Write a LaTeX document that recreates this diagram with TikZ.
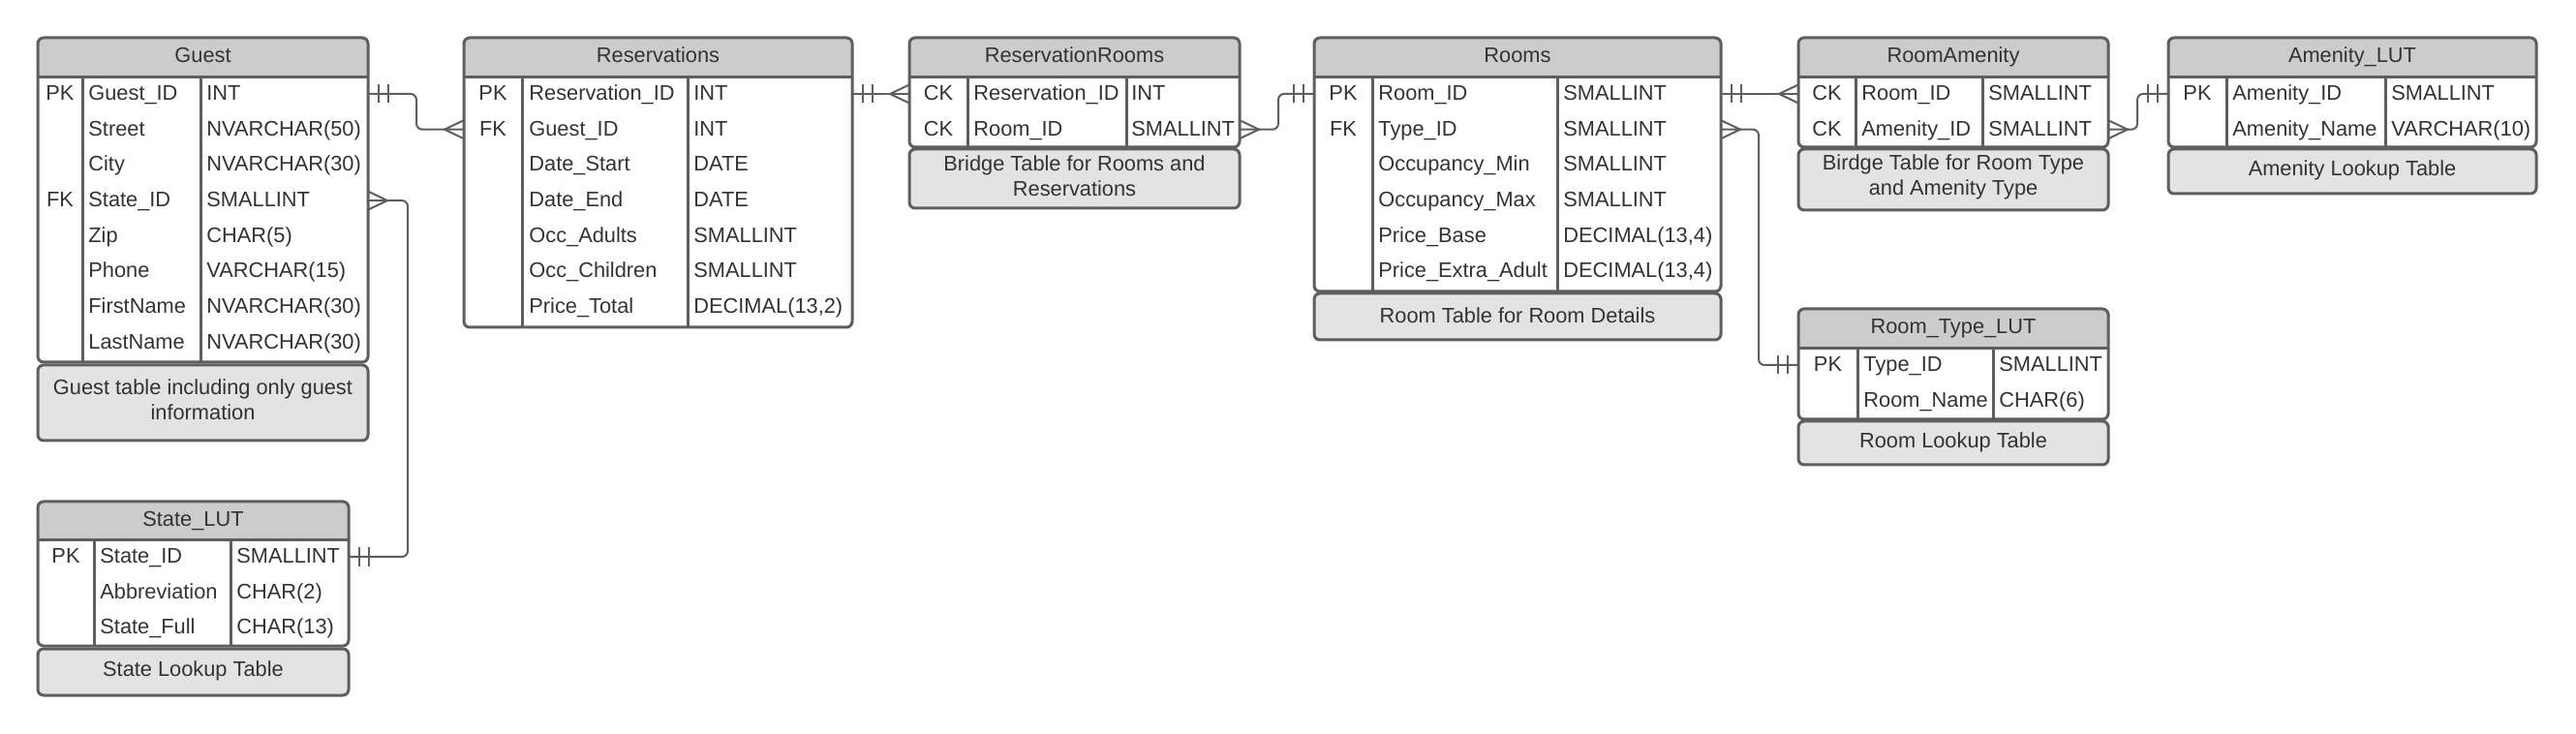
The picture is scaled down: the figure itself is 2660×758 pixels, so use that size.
\documentclass[tikz,border=0pt]{standalone}
\usepackage{fontspec}
\setmainfont{Liberation Sans}
\definecolor{ink}{HTML}{333333}
\definecolor{edge}{HTML}{5E5E5E}
\definecolor{hdrfill}{HTML}{CCCCCC}
\definecolor{notefill}{HTML}{E3E3E3}

\begin{document}
\begin{tikzpicture}[x=0.5pt, y=-0.5pt,
    tbl/.style={draw=edge, line width=1.5pt},
    conn/.style={draw=edge, line width=1pt},
    txt/.style={inner sep=0pt, text=ink, font=\fontsize{10.9}{13}\selectfont},
    titletxt/.style={txt, anchor=base},
    keytxt/.style={txt, anchor=base},
    fldtxt/.style={txt, anchor=base west},
    notetxt/.style={txt, align=center},
    crowfoot/.pic={\draw[conn] (0,-9.5) -- (20,0) -- (0,9.5);},
    onebar/.pic={\draw[conn] (11,-9.5) -- (11,9.5) (21,-9.5) -- (21,9.5);}]
    \useasboundingbox (0,0) rectangle (2660,758);

    % Guest
    \begin{scope}
        \clip[rounded corners=3pt] (39,39) rectangle (380,374);
        \fill[hdrfill] (39,39) rectangle (380,80);
    \end{scope}
    \draw[tbl, rounded corners=3pt] (39,39) rectangle (380,374);
    \draw[tbl] (39,80) -- (380,80) (85,80) -- (85,374) (207,80) -- (207,374);
    \node[titletxt] (guest) at (209.5,65) {Guest};
    \foreach \k/\f/\t [count=\i] in {PK/Guest\_ID/INT, /Street/NVARCHAR(50), /City/NVARCHAR(30),
        FK/State\_ID/SMALLINT, /Zip/CHAR(5), /Phone/VARCHAR(15), /FirstName/NVARCHAR(30), /LastName/NVARCHAR(30)} {
        \coordinate (guest-\i-w) at (39,{97+(\i-1)*36.7});
        \coordinate (guest-\i-e) at (380,{97+(\i-1)*36.7});
        \node[keytxt] (guest-k\i) at (62,{103.5+(\i-1)*36.7}) {\k};
        \node[fldtxt] (guest-f\i) at (91,{103.5+(\i-1)*36.7}) {\f};
        \node[fldtxt] (guest-t\i) at (213,{103.5+(\i-1)*36.7}) {\t};
    }
    \draw[tbl, fill=notefill, rounded corners=3pt] (39,377) rectangle (380,455);
    \node[notetxt] (guest-note) at (209.5,413) {Guest table including only guest\\information};

    % State_LUT
    \begin{scope}
        \clip[rounded corners=3pt] (39,518) rectangle (360,667);
        \fill[hdrfill] (39,518) rectangle (360,558);
    \end{scope}
    \draw[tbl, rounded corners=3pt] (39,518) rectangle (360,667);
    \draw[tbl] (39,558) -- (360,558) (97,558) -- (97,667) (238,558) -- (238,667);
    \node[titletxt] (state) at (199.5,544) {State\_LUT};
    \foreach \k/\f/\t [count=\i] in {PK/State\_ID/SMALLINT, /Abbreviation/CHAR(2), /State\_Full/CHAR(13)} {
        \coordinate (state-\i-w) at (39,{575+(\i-1)*36.7});
        \coordinate (state-\i-e) at (360,{575+(\i-1)*36.7});
        \node[keytxt] (state-k\i) at (68,{581.5+(\i-1)*36.7}) {\k};
        \node[fldtxt] (state-f\i) at (103,{581.5+(\i-1)*36.7}) {\f};
        \node[fldtxt] (state-t\i) at (244,{581.5+(\i-1)*36.7}) {\t};
    }
    \draw[tbl, fill=notefill, rounded corners=3pt] (39,670) rectangle (360,718);
    \node[notetxt] (state-note) at (199.5,693) {State Lookup Table};

    % Reservations
    \begin{scope}
        \clip[rounded corners=3pt] (479,39) rectangle (880,338);
        \fill[hdrfill] (479,39) rectangle (880,80);
    \end{scope}
    \draw[tbl, rounded corners=3pt] (479,39) rectangle (880,338);
    \draw[tbl] (479,80) -- (880,80) (539,80) -- (539,338) (710,80) -- (710,338);
    \node[titletxt] (resv) at (679.5,65) {Reservations};
    \foreach \k/\f/\t [count=\i] in {PK/Reservation\_ID/INT, FK/Guest\_ID/INT, /Date\_Start/DATE, /Date\_End/DATE,
        /Occ\_Adults/SMALLINT, /Occ\_Children/SMALLINT, /Price\_Total/DECIMAL(13{,}2)} {
        \coordinate (resv-\i-w) at (479,{97+(\i-1)*36.7});
        \coordinate (resv-\i-e) at (880,{97+(\i-1)*36.7});
        \node[keytxt] (resv-k\i) at (509,{103.5+(\i-1)*36.7}) {\k};
        \node[fldtxt] (resv-f\i) at (546,{103.5+(\i-1)*36.7}) {\f};
        \node[fldtxt] (resv-t\i) at (716,{103.5+(\i-1)*36.7}) {\t};
    }

    % ReservationRooms
    \begin{scope}
        \clip[rounded corners=3pt] (939,39) rectangle (1280,152);
        \fill[hdrfill] (939,39) rectangle (1280,80);
    \end{scope}
    \draw[tbl, rounded corners=3pt] (939,39) rectangle (1280,152);
    \draw[tbl] (939,80) -- (1280,80) (999,80) -- (999,152) (1163,80) -- (1163,152);
    \node[titletxt] (rr) at (1109.5,65) {ReservationRooms};
    \foreach \k/\f/\t [count=\i] in {CK/Reservation\_ID/INT, CK/Room\_ID/SMALLINT} {
        \coordinate (rr-\i-w) at (939,{97+(\i-1)*36.7});
        \coordinate (rr-\i-e) at (1280,{97+(\i-1)*36.7});
        \node[keytxt] (rr-k\i) at (969,{103.5+(\i-1)*36.7}) {\k};
        \node[fldtxt] (rr-f\i) at (1005,{103.5+(\i-1)*36.7}) {\f};
        \node[fldtxt] (rr-t\i) at (1168,{103.5+(\i-1)*36.7}) {\t};
    }
    \draw[tbl, fill=notefill, rounded corners=3pt] (939,154) rectangle (1280,215);
    \node[notetxt] (rr-note) at (1109.5,181.5) {Bridge Table for Rooms and\\Reservations};

    % Rooms
    \begin{scope}
        \clip[rounded corners=3pt] (1357,39) rectangle (1777,301);
        \fill[hdrfill] (1357,39) rectangle (1777,80);
    \end{scope}
    \draw[tbl, rounded corners=3pt] (1357,39) rectangle (1777,301);
    \draw[tbl] (1357,80) -- (1777,80) (1417,80) -- (1417,301) (1608,80) -- (1608,301);
    \node[titletxt] (rooms) at (1567,65) {Rooms};
    \foreach \k/\f/\t [count=\i] in {PK/Room\_ID/SMALLINT, FK/Type\_ID/SMALLINT, /Occupancy\_Min/SMALLINT,
        /Occupancy\_Max/SMALLINT, /Price\_Base/DECIMAL(13{,}4), /Price\_Extra\_Adult/DECIMAL(13{,}4)} {
        \coordinate (rooms-\i-w) at (1357,{97+(\i-1)*36.7});
        \coordinate (rooms-\i-e) at (1777,{97+(\i-1)*36.7});
        \node[keytxt] (rooms-k\i) at (1387,{103.5+(\i-1)*36.7}) {\k};
        \node[fldtxt] (rooms-f\i) at (1423,{103.5+(\i-1)*36.7}) {\f};
        \node[fldtxt] (rooms-t\i) at (1614,{103.5+(\i-1)*36.7}) {\t};
    }
    \draw[tbl, fill=notefill, rounded corners=3pt] (1357,303) rectangle (1777,351);
    \node[notetxt] (rooms-note) at (1567,326) {Room Table for Room Details};

    % RoomAmenity
    \begin{scope}
        \clip[rounded corners=3pt] (1857,39) rectangle (2177,152);
        \fill[hdrfill] (1857,39) rectangle (2177,80);
    \end{scope}
    \draw[tbl, rounded corners=3pt] (1857,39) rectangle (2177,152);
    \draw[tbl] (1857,80) -- (2177,80) (1916,80) -- (1916,152) (2047,80) -- (2047,152);
    \node[titletxt] (ra) at (2017,65) {RoomAmenity};
    \foreach \k/\f/\t [count=\i] in {CK/Room\_ID/SMALLINT, CK/Amenity\_ID/SMALLINT} {
        \coordinate (ra-\i-w) at (1857,{97+(\i-1)*36.7});
        \coordinate (ra-\i-e) at (2177,{97+(\i-1)*36.7});
        \node[keytxt] (ra-k\i) at (1886.5,{103.5+(\i-1)*36.7}) {\k};
        \node[fldtxt] (ra-f\i) at (1922,{103.5+(\i-1)*36.7}) {\f};
        \node[fldtxt] (ra-t\i) at (2053,{103.5+(\i-1)*36.7}) {\t};
    }
    \draw[tbl, fill=notefill, rounded corners=3pt] (1857,154) rectangle (2177,217);
    \node[notetxt] (ra-note) at (2017,182.5) {Birdge Table for Room Type\\and Amenity Type};

    % Amenity_LUT
    \begin{scope}
        \clip[rounded corners=3pt] (2239,39) rectangle (2619,152);
        \fill[hdrfill] (2239,39) rectangle (2619,80);
    \end{scope}
    \draw[tbl, rounded corners=3pt] (2239,39) rectangle (2619,152);
    \draw[tbl] (2239,80) -- (2619,80) (2299,80) -- (2299,152) (2463,80) -- (2463,152);
    \node[titletxt] (amen) at (2429,65) {Amenity\_LUT};
    \foreach \k/\f/\t [count=\i] in {PK/Amenity\_ID/SMALLINT, /Amenity\_Name/VARCHAR(10)} {
        \coordinate (amen-\i-w) at (2239,{97+(\i-1)*36.7});
        \coordinate (amen-\i-e) at (2619,{97+(\i-1)*36.7});
        \node[keytxt] (amen-k\i) at (2269,{103.5+(\i-1)*36.7}) {\k};
        \node[fldtxt] (amen-f\i) at (2305,{103.5+(\i-1)*36.7}) {\f};
        \node[fldtxt] (amen-t\i) at (2469,{103.5+(\i-1)*36.7}) {\t};
    }
    \draw[tbl, fill=notefill, rounded corners=3pt] (2239,154) rectangle (2619,200);
    \node[notetxt] (amen-note) at (2429,176) {Amenity Lookup Table};

    % Room_Type_LUT
    \begin{scope}
        \clip[rounded corners=3pt] (1857,319) rectangle (2177,433);
        \fill[hdrfill] (1857,319) rectangle (2177,360);
    \end{scope}
    \draw[tbl, rounded corners=3pt] (1857,319) rectangle (2177,433);
    \draw[tbl] (1857,360) -- (2177,360) (1918,360) -- (1918,433) (2058,360) -- (2058,433);
    \node[titletxt] (rtype) at (2017,345) {Room\_Type\_LUT};
    \foreach \k/\f/\t [count=\i] in {PK/Type\_ID/SMALLINT, /Room\_Name/CHAR(6)} {
        \coordinate (rtype-\i-w) at (1857,{377+(\i-1)*36.7});
        \coordinate (rtype-\i-e) at (2177,{377+(\i-1)*36.7});
        \node[keytxt] (rtype-k\i) at (1887.5,{383.5+(\i-1)*36.7}) {\k};
        \node[fldtxt] (rtype-f\i) at (1924,{383.5+(\i-1)*36.7}) {\f};
        \node[fldtxt] (rtype-t\i) at (2064,{383.5+(\i-1)*36.7}) {\t};
    }
    \draw[tbl, fill=notefill, rounded corners=3pt] (1857,435) rectangle (2177,480);
    \node[notetxt] (rtype-note) at (2017,456.5) {Room Lookup Table};

    % Relationships
    \draw[conn, rounded corners=3pt] (guest-1-e) -- ++(50,0) |- (resv-2-w);
    \draw[conn, rounded corners=3pt] (guest-4-e) -- ++(41,0) |- (state-1-e);
    \draw[conn] (resv-1-e) -- (rr-1-w);
    \draw[conn, rounded corners=3pt] (rr-2-e) -- ++(40,0) |- (rooms-1-w);
    \draw[conn] (rooms-1-e) -- (ra-1-w);
    \draw[conn, rounded corners=3pt] (rooms-2-e) -- ++(39,0) |- (rtype-1-w);
    \draw[conn, rounded corners=3pt] (ra-2-e) -- ++(30,0) |- (amen-1-w);
    \pic at (guest-1-e) {onebar};  \pic[xscale=-1] at (resv-2-w) {crowfoot};
    \pic at (guest-4-e) {crowfoot}; \pic at (state-1-e) {onebar};
    \pic at (resv-1-e) {onebar};   \pic[xscale=-1] at (rr-1-w) {crowfoot};
    \pic at (rr-2-e) {crowfoot};   \pic[xscale=-1] at (rooms-1-w) {onebar};
    \pic at (rooms-1-e) {onebar};  \pic[xscale=-1] at (ra-1-w) {crowfoot};
    \pic at (rooms-2-e) {crowfoot}; \pic[xscale=-1] at (rtype-1-w) {onebar};
    \pic at (ra-2-e) {crowfoot};   \pic[xscale=-1] at (amen-1-w) {onebar};
\end{tikzpicture}
\end{document}
